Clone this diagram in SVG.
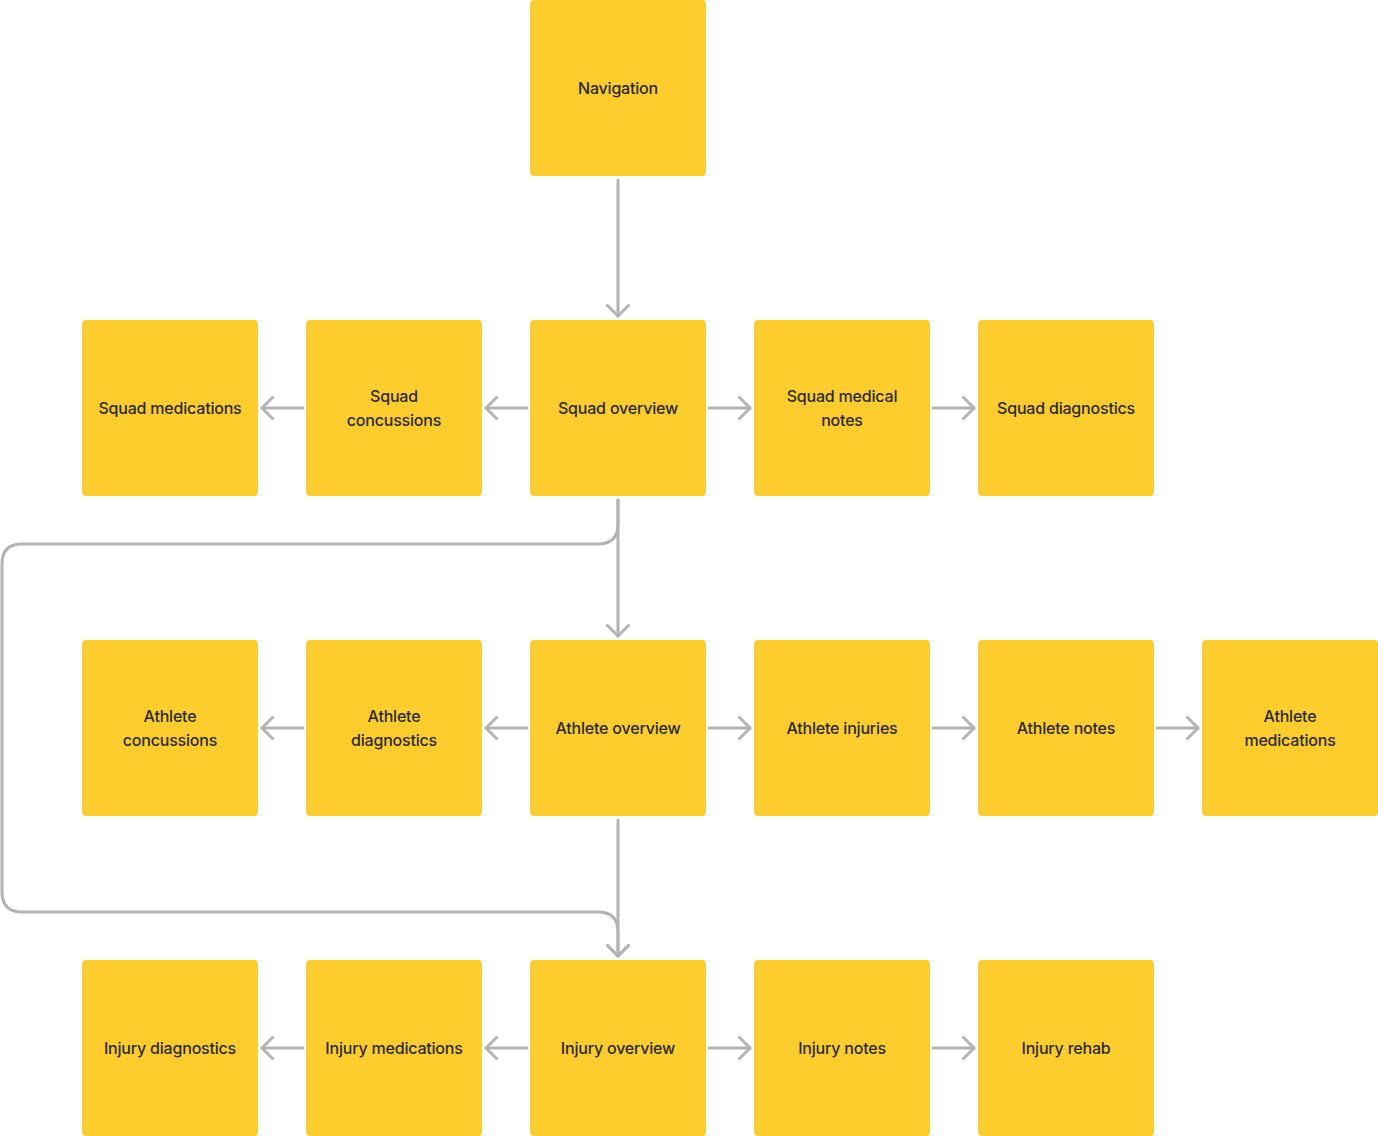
<svg xmlns="http://www.w3.org/2000/svg" width="1378" height="1136" viewBox="0 0 1378 1136">
<style>
.n{fill:#FDCD2D}
.t{font-family:Inter,"Noto Sans",sans-serif;font-size:16px;font-weight:500;letter-spacing:-0.2px;fill:#2B2A26;text-anchor:middle}
.c{fill:none;stroke:#B3B3B3;stroke-width:3;stroke-linecap:round;stroke-linejoin:round}
</style>
<defs>
<marker id="a" viewBox="0 0 14 24" markerWidth="14" markerHeight="24" refX="12" refY="12" orient="auto" markerUnits="userSpaceOnUse">
<path d="M1.5 1.5 L12 12 L1.5 22.5" fill="none" stroke="#B3B3B3" stroke-width="3" stroke-linecap="round" stroke-linejoin="round"/>
</marker>
</defs>
<rect width="1378" height="1136" fill="#FFFFFF"/>
<g id="connectors">
<path class="c" d="M618 180 V316" marker-end="url(#a)"/>
<path class="c" d="M527 408 H486" marker-end="url(#a)"/>
<path class="c" d="M303 408 H262" marker-end="url(#a)"/>
<path class="c" d="M709 408 H750" marker-end="url(#a)"/>
<path class="c" d="M933 408 H974" marker-end="url(#a)"/>
<path class="c" d="M618 500 V636" marker-end="url(#a)"/>
<path class="c" d="M618 500 V524 Q618 544 598 544 H22 Q2 544 2 564 V892 Q2 912 22 912 H598 Q618 912 618 932 V956" marker-end="url(#a)"/>
<path class="c" d="M527 728 H486" marker-end="url(#a)"/>
<path class="c" d="M303 728 H262" marker-end="url(#a)"/>
<path class="c" d="M709 728 H750" marker-end="url(#a)"/>
<path class="c" d="M933 728 H974" marker-end="url(#a)"/>
<path class="c" d="M1157 728 H1198" marker-end="url(#a)"/>
<path class="c" d="M618 820 V956" marker-end="url(#a)"/>
<path class="c" d="M527 1048 H486" marker-end="url(#a)"/>
<path class="c" d="M303 1048 H262" marker-end="url(#a)"/>
<path class="c" d="M709 1048 H750" marker-end="url(#a)"/>
<path class="c" d="M933 1048 H974" marker-end="url(#a)"/>
</g>
<g id="navigation"><rect class="n" x="530" y="0" width="176" height="176" rx="4"/><text class="t" x="618" y="94">Navigation</text></g>
<g id="squad-medications"><rect class="n" x="82" y="320" width="176" height="176" rx="4"/><text class="t" x="170" y="414">Squad medications</text></g>
<g id="squad-concussions"><rect class="n" x="306" y="320" width="176" height="176" rx="4"/><text class="t" x="394" y="402">Squad</text><text class="t" x="394" y="426">concussions</text></g>
<g id="squad-overview"><rect class="n" x="530" y="320" width="176" height="176" rx="4"/><text class="t" x="618" y="414">Squad overview</text></g>
<g id="squad-medical-notes"><rect class="n" x="754" y="320" width="176" height="176" rx="4"/><text class="t" x="842" y="402">Squad medical</text><text class="t" x="842" y="426">notes</text></g>
<g id="squad-diagnostics"><rect class="n" x="978" y="320" width="176" height="176" rx="4"/><text class="t" x="1066" y="414">Squad diagnostics</text></g>
<g id="athlete-concussions"><rect class="n" x="82" y="640" width="176" height="176" rx="4"/><text class="t" x="170" y="722">Athlete</text><text class="t" x="170" y="746">concussions</text></g>
<g id="athlete-diagnostics"><rect class="n" x="306" y="640" width="176" height="176" rx="4"/><text class="t" x="394" y="722">Athlete</text><text class="t" x="394" y="746">diagnostics</text></g>
<g id="athlete-overview"><rect class="n" x="530" y="640" width="176" height="176" rx="4"/><text class="t" x="618" y="734">Athlete overview</text></g>
<g id="athlete-injuries"><rect class="n" x="754" y="640" width="176" height="176" rx="4"/><text class="t" x="842" y="734">Athlete injuries</text></g>
<g id="athlete-notes"><rect class="n" x="978" y="640" width="176" height="176" rx="4"/><text class="t" x="1066" y="734">Athlete notes</text></g>
<g id="athlete-medications"><rect class="n" x="1202" y="640" width="176" height="176" rx="4"/><text class="t" x="1290" y="722">Athlete</text><text class="t" x="1290" y="746">medications</text></g>
<g id="injury-diagnostics"><rect class="n" x="82" y="960" width="176" height="176" rx="4"/><text class="t" x="170" y="1054">Injury diagnostics</text></g>
<g id="injury-medications"><rect class="n" x="306" y="960" width="176" height="176" rx="4"/><text class="t" x="394" y="1054">Injury medications</text></g>
<g id="injury-overview"><rect class="n" x="530" y="960" width="176" height="176" rx="4"/><text class="t" x="618" y="1054">Injury overview</text></g>
<g id="injury-notes"><rect class="n" x="754" y="960" width="176" height="176" rx="4"/><text class="t" x="842" y="1054">Injury notes</text></g>
<g id="injury-rehab"><rect class="n" x="978" y="960" width="176" height="176" rx="4"/><text class="t" x="1066" y="1054">Injury rehab</text></g>
</svg>
